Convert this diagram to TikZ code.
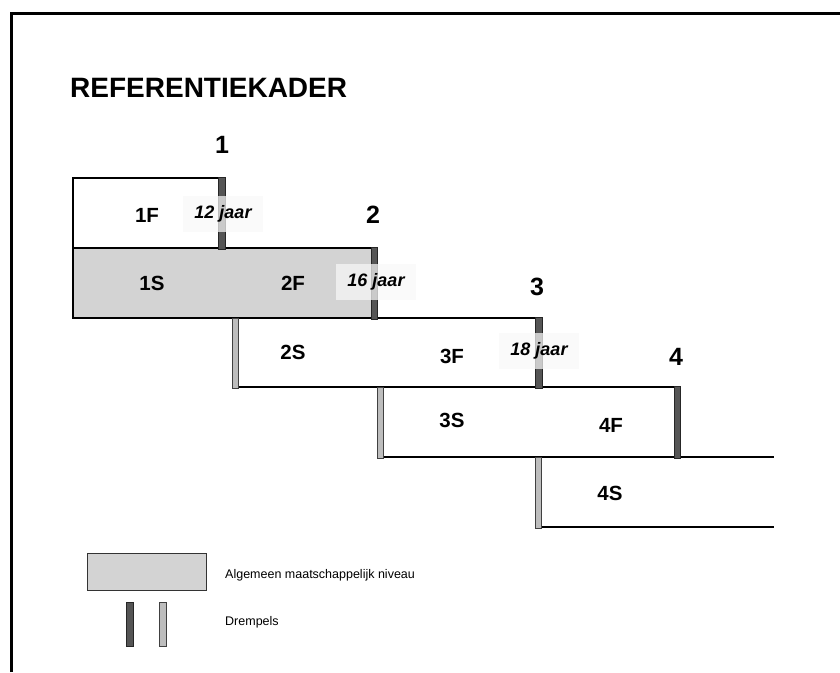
\documentclass[tikz,border=0pt]{standalone}
\usepackage{fontspec}
\setmainfont{Liberation Sans}
\definecolor{levelgray}{HTML}{D3D3D3}
\definecolor{darkbar}{HTML}{555555}
\definecolor{lightbar}{HTML}{BDBDBD}
\definecolor{labbg}{HTML}{F8F8F8}
\tikzset{
  edge/.style={line width=2.9pt, line cap=rect},
  frameline/.style={line width=3pt},
  dbar/.style={fill=darkbar, draw=black!85, line width=0.9pt},
  lbar/.style={fill=lightbar, draw=black!75, line width=0.9pt},
  lab/.style={font=\fontsize{20.5}{22}\selectfont\bfseries, inner sep=0pt},
  yr/.style={font=\fontsize{18}{20}\selectfont\bfseries\itshape, fill=labbg, fill opacity=0.72, text opacity=1, minimum width=80pt, minimum height=36pt, inner sep=0pt},
  num/.style={font=\fontsize{25}{27}\selectfont\bfseries, inner sep=0pt},
  ttl/.style={font=\fontsize{28}{30}\selectfont\bfseries, inner sep=0pt, anchor=west},
  leg/.style={font=\fontsize{12.5}{14}\selectfont, inner sep=0pt, anchor=west},
}
\begin{document}
\begin{tikzpicture}[x=1pt,y=-1pt]
\useasboundingbox (0,0) rectangle (840,672);
% frame
\draw[frameline] (11.5,672) -- (11.5,13.5) -- (840,13.5);
% title
\node[ttl] (title) at (70,88) {REFERENTIEKADER};
% gray general level box
\fill[levelgray] (73,248) rectangle (374,318);
% box edges
\draw[edge] (222,178) -- (73,178) -- (73,318) -- (374,318);
\draw[edge] (73,248) -- (374,248);
\draw[edge] (235,318) -- (539,318);
\draw[edge] (235,387) -- (539,387);
\draw[edge] (380,387) -- (677,387);
\draw[edge] (380,457) -- (773,457);
\draw[edge] (538,527) -- (773,527);
% thresholds (dark)
\filldraw[dbar] (218.5,177) rectangle (225,249);
\filldraw[dbar] (371,247) rectangle (377.5,319);
\filldraw[dbar] (535.5,317) rectangle (542,388);
\filldraw[dbar] (674,386) rectangle (680.5,458);
% thresholds (light)
\filldraw[lbar] (232,318) rectangle (238,388);
\filldraw[lbar] (377,387) rectangle (383,458);
\filldraw[lbar] (535.5,457) rectangle (541.5,528);
% numbers
\node[num] (n1) at (222,145) {1};
\node[num] (n2) at (373,215) {2};
\node[num] (n3) at (537,287) {3};
\node[num] (n4) at (676,357) {4};
% labels
\node[lab] (f1) at (147,215) {1F};
\node[lab] (s1) at (152,283) {1S};
\node[lab] (f2) at (293,283) {2F};
\node[lab] (s2) at (293,352) {2S};
\node[lab] (f3) at (452,356) {3F};
\node[lab] (s3) at (452,420) {3S};
\node[lab] (f4) at (611,425) {4F};
\node[lab] (s4) at (610,493) {4S};
% ages
\node[yr] (y12) at (223,214) {12 jaar};
\node[yr] (y16) at (376,282) {16 jaar};
\node[yr] (y18) at (539,351) {18 jaar};
% legend
\filldraw[fill=levelgray, draw=black!80, line width=0.9pt] (87,553) rectangle (206,590);
\node[leg] (l1) at (225,575) {Algemeen maatschappelijk niveau};
\filldraw[dbar] (126,602) rectangle (133,646);
\filldraw[lbar] (159,602) rectangle (166,646);
\node[leg] (l2) at (225,622) {Drempels};
\end{tikzpicture}
\end{document}
